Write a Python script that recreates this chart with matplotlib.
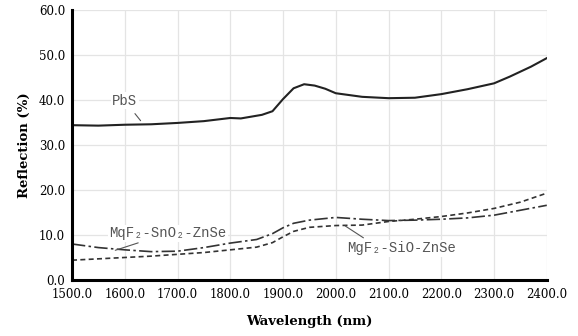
import matplotlib.pyplot as plt
import numpy as np

# wavelength (nm) and reflection (%)
wl_pbs = [1500, 1550, 1600, 1650, 1700, 1750, 1800, 1820, 1840, 1860, 1880, 1900, 1920,
          1940, 1960, 1980, 2000, 2050, 2100, 2150, 2200, 2250, 2300, 2330, 2350, 2370, 2400]
pbs = [34.4, 34.3, 34.5, 34.6, 34.9, 35.3, 36.0, 35.9, 36.3, 36.7, 37.5, 40.2, 42.6,
       43.5, 43.2, 42.5, 41.5, 40.7, 40.4, 40.5, 41.3, 42.4, 43.7, 45.2, 46.3, 47.4, 49.3]

wl_sno2 = [1500, 1550, 1600, 1650, 1700, 1750, 1800, 1850, 1880, 1900, 1920, 1950, 2000,
           2050, 2100, 2150, 2200, 2250, 2300, 2350, 2400]
sno2 = [8.0, 7.2, 6.7, 6.3, 6.4, 7.2, 8.2, 9.0, 10.3, 11.6, 12.6, 13.3, 13.9,
        13.5, 13.2, 13.3, 13.5, 13.8, 14.4, 15.5, 16.6]

wl_sio = [1500, 1550, 1600, 1650, 1700, 1750, 1800, 1850, 1880, 1900, 1920, 1950, 2000,
          2050, 2100, 2150, 2200, 2250, 2300, 2350, 2400]
sio = [4.4, 4.7, 5.0, 5.3, 5.7, 6.1, 6.7, 7.3, 8.3, 9.6, 10.8, 11.7, 12.1,
       12.2, 13.0, 13.5, 14.1, 14.9, 15.9, 17.3, 19.3]

x_ticks = np.arange(1500, 2401, 100)
y_ticks = np.arange(0, 61, 10)

plt.rcParams['font.family'] = 'DejaVu Serif'
fig = plt.figure(figsize=(5.78, 3.36), dpi=100)
ax = fig.add_axes([0.1246, 0.1667, 0.8214, 0.8036])

ax.plot(wl_pbs, pbs, color='#222222', lw=1.5)
ax.plot(wl_sno2, sno2, color='#333333', lw=1.2, dashes=(8, 2, 1.5, 2))
ax.plot(wl_sio, sio, color='#333333', lw=1.2, dashes=(3, 2))

ax.set_xlim(1500, 2400)
ax.set_ylim(0, 60)
ax.set_xticks(x_ticks)
ax.set_yticks(y_ticks)
ax.set_xticklabels(['%.1f' % v for v in x_ticks], fontsize=8.5)
ax.set_yticklabels(['%.1f' % v for v in y_ticks], fontsize=8.5)
ax.tick_params(axis='x', length=0, pad=6)
ax.tick_params(axis='y', length=0, pad=5)
ax.grid(True, color='#e4e4e4', lw=0.9)
ax.set_axisbelow(True)
for s in ['top', 'right']:
    ax.spines[s].set_visible(False)
for s in ['left', 'bottom']:
    ax.spines[s].set_linewidth(2.2)
    ax.spines[s].set_color('black')

ax.set_xlabel('Wavelength (nm)', fontsize=9.5, fontweight='bold', labelpad=10)
ax.set_ylabel('Reflection (%)', fontsize=9.5, fontweight='bold', labelpad=6)

mono = 'Liberation Mono'
box = dict(facecolor='white', edgecolor='none', pad=1)
ax.annotate('PbS', xy=(1630, 35.4), xytext=(1600, 39.8), fontsize=10, family=mono,
            color='#555555', ha='center', va='center', bbox=box,
            arrowprops=dict(arrowstyle='-', color='#555555', lw=0.8, shrinkA=4, shrinkB=0))
ax.annotate('MqF₂-SnO₂-ZnSe', xy=(1582, 6.6), xytext=(1682, 10.4), fontsize=10, family=mono,
            color='#555555', ha='center', va='center', bbox=box,
            arrowprops=dict(arrowstyle='-', color='#555555', lw=0.8, shrinkA=3, shrinkB=0))
ax.annotate('MgF₂-SiO-ZnSe', xy=(2018, 12.0), xytext=(2125, 7.0), fontsize=10, family=mono,
            color='#555555', ha='center', va='center', bbox=box,
            arrowprops=dict(arrowstyle='-', color='#555555', lw=0.8, shrinkA=3, shrinkB=0,
                            relpos=(0.2, 1.0)))

fig.savefig('out.png', dpi=100)
